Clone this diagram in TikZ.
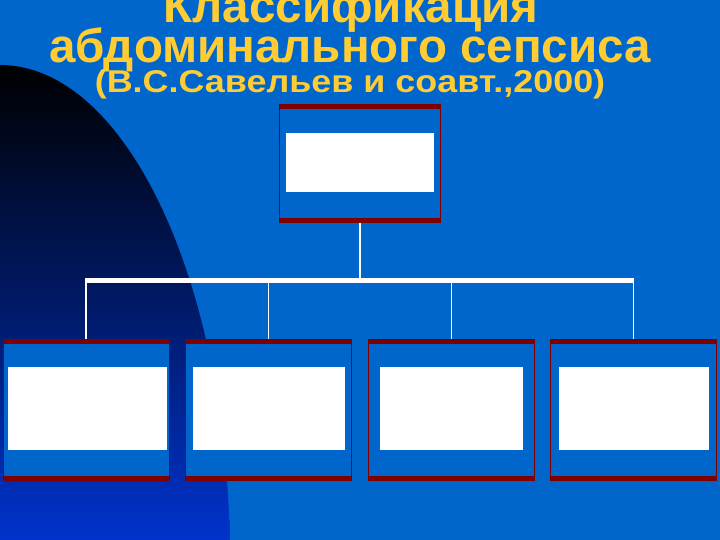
\documentclass[tikz,border=0pt]{standalone}
\usepackage{graphicx}
\usepackage{fontspec}
\setmainfont{Liberation Sans}
\usetikzlibrary{calc}
\definecolor{slideblue}{RGB}{0,102,204}
\definecolor{deepblue}{RGB}{0,51,204}
\definecolor{boxred}{RGB}{128,0,0}
\definecolor{titleyellow}{RGB}{255,204,51}

\tikzset{
	panel/.style={draw=boxred, line width=0.7pt, fill=slideblue, rectangle, inner sep=0pt,
		minimum width=166pt, minimum height=141.5pt,
		path picture={
			\fill[boxred] (path picture bounding box.north west) rectangle ([yshift=-4.5pt]path picture bounding box.north east);
			\fill[boxred] (path picture bounding box.south west) rectangle ([yshift=4.5pt]path picture bounding box.south east);
		}},
	blank/.style={fill=white, rectangle, inner sep=0pt, minimum height=83.3pt},
	titletext/.style={text=titleyellow, font=\bfseries\fontsize{#1}{#1}\selectfont, anchor=base, inner sep=0pt},
	link/.style={draw=white, line width=1.5pt},
	bar/.style={draw=white, line width=5pt}
}

\begin{document}
\begin{tikzpicture}[x=1pt, y=-1pt]
	\useasboundingbox (0,0) rectangle (720,540);
	\fill[slideblue] (0,0) rectangle (720,540);
	% dark arc on the left
	\shade[top color=black, bottom color=deepblue] (0,540) -- (0,65) arc[start angle=270, end angle=357.7, x radius=230, y radius=495] -- cycle;

	\node[titletext=47.5] (title1) at (351,23) {Классификация};
	\node[titletext=47.5] (title2) at (350,62.5) {абдоминального сепсиса};
	\node[titletext=31.5] (title3) at (350,93) {\scalebox{1.14}[1]{(В.С.Савельев и соавт.,2000)}};

	\node[panel, minimum width=161.4pt, minimum height=118.4pt] (root) at (360,163.5) {};
	\node[blank, minimum width=148.3pt, minimum height=59pt] (rootblank) at (360,162.2) {};
	\coordinate (barlevel) at (360,280.5);

	\foreach \n/\x/\bx/\bw in {1/86/87.5/158.4, 2/268.3/268.9/152.3, 3/451.3/451.7/143.3, 4/633.7/634.3/150}
	{
		\node[panel] (kind\n) at (\x,410) {};
		\node[blank, minimum width=\bw pt] (kind\n blank) at (\bx,408.3) {};
		\draw[link] (kind\n.north |- barlevel) -- (kind\n.north);
	}

	\draw[link] (root.south) -- (root.south |- barlevel);
	\draw[bar] ([xshift=-0.75pt]kind1.north |- barlevel) -- ([xshift=0.75pt]kind4.north |- barlevel);
\end{tikzpicture}
\end{document}
